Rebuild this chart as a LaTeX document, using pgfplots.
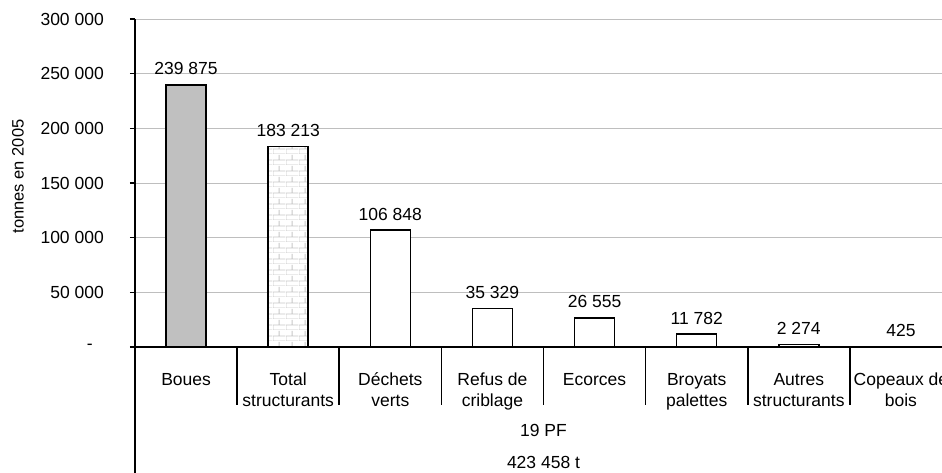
\documentclass[border=0pt]{standalone}
\usepackage{fontspec}
\setmainfont{Liberation Sans}
\usepackage{pgfplots}
\pgfplotsset{compat=1.18}
\usepackage{pgfplotstable}
\usetikzlibrary{patterns}

\pgfdeclarepatternformonly{mybricks}{\pgfpointorigin}{\pgfpoint{13pt}{11pt}}{\pgfpoint{13pt}{11pt}}{%
  \pgfsetlinewidth{0.9pt}%
  \pgfpathmoveto{\pgfpoint{0pt}{0pt}}\pgfpathlineto{\pgfpoint{13pt}{0pt}}%
  \pgfpathmoveto{\pgfpoint{0pt}{5.5pt}}\pgfpathlineto{\pgfpoint{13pt}{5.5pt}}%
  \pgfpathmoveto{\pgfpoint{0pt}{0pt}}\pgfpathlineto{\pgfpoint{0pt}{5.5pt}}%
  \pgfpathmoveto{\pgfpoint{6.5pt}{5.5pt}}\pgfpathlineto{\pgfpoint{6.5pt}{11pt}}%
  \pgfusepath{stroke}}

\definecolor{barGrey}{RGB}{192,192,192}
\definecolor{gridGrey}{RGB}{190,190,190}
\definecolor{brickGrey}{RGB}{200,200,200}

\pgfplotstableread[col sep=comma]{
x,y,label
0,239875,239 875
}\boues
\pgfplotstableread[col sep=comma]{
x,y,label
1,183213,183 213
}\total
\pgfplotstableread[col sep=comma]{
x,y,label
2,106848,106 848
3,35329,35 329
4,26555,26 555
5,11782,11 782
6,2274,2 274
7,425,425
}\autres

\begin{document}
\begin{tikzpicture}[font=\fontsize{17.5}{21}\selectfont]
\begin{axis}[
  name=ax,
  scale only axis,
  width=817pt, height=328pt,
  xmin=-0.5, xmax=7.5,
  ymin=0, ymax=300000,
  axis lines=left,
  axis line style={-, line width=1.6pt, black},
  clip=false,
  ybar, bar width=40pt,
  scaled y ticks=false,
  ytick={0,50000,100000,150000,200000,250000,300000},
  yticklabels={-\kern11pt, 50 000, 100 000, 150 000, 200 000, 250 000, 300 000},
  tick align=outside,
  major tick length=5pt,
  ytick style={line width=1.6pt, black},
  yticklabel style={anchor=east, inner sep=0pt, xshift=-26pt},
  ymajorgrids,
  grid style={line width=1pt, gridGrey},
  xtick={0,1,2,3,4,5,6,7},
  xticklabels={Boues, Total, Déchets, Refus de, Ecorces, Broyats, Autres, Copeaux de},
  xtick style={draw=none},
  xticklabel style={anchor=base, inner sep=0pt, yshift=-33pt},
  extra x ticks={0,1,2,3,4,5,6,7},
  extra x tick labels={, structurants, verts, criblage, , palettes, structurants, bois},
  extra x tick style={xticklabel style={yshift=-21pt}},
  ylabel={tonnes en 2005},
  ylabel style={at={(axis description cs:0,0.52)}, anchor=center, yshift=117pt, font=\fontsize{16.5}{20}\selectfont},
  point meta=explicit symbolic,
  nodes near coords,
  every node near coord/.append style={anchor=base, inner sep=0pt, yshift=10pt, black},
]
\addplot[bar shift=0pt, draw=black, line width=1.6pt, fill=barGrey] table[x=x, y=y, meta=label] {\boues};
\addplot[bar shift=0pt, draw=black, line width=1.6pt, fill=white, postaction={pattern=mybricks, pattern color=brickGrey}] table[x=x, y=y, meta=label] {\total};
\addplot[bar shift=0pt, draw=black, line width=1.6pt, fill=white] table[x=x, y=y, meta=label] {\autres};

\draw[line width=1.6pt] (axis cs:-0.5,0) -- ([yshift=-135pt]axis cs:-0.5,0);
\draw[line width=1.6pt] (axis cs:0.5,0) -- ([yshift=-58pt]axis cs:0.5,0);
\draw[line width=1.6pt] (axis cs:1.5,0) -- ([yshift=-58pt]axis cs:1.5,0);
\draw[line width=1.6pt] (axis cs:2.5,0) -- ([yshift=-58pt]axis cs:2.5,0);
\draw[line width=1.6pt] (axis cs:3.5,0) -- ([yshift=-58pt]axis cs:3.5,0);
\draw[line width=1.6pt] (axis cs:4.5,0) -- ([yshift=-58pt]axis cs:4.5,0);
\draw[line width=1.6pt] (axis cs:5.5,0) -- ([yshift=-58pt]axis cs:5.5,0);
\draw[line width=1.6pt] (axis cs:6.5,0) -- ([yshift=-58pt]axis cs:6.5,0);
\draw[line width=1.6pt] (axis cs:7.5,0) -- ([yshift=-58pt]axis cs:7.5,0);

\node[anchor=base, inner sep=0pt] at ([yshift=-89.7pt]axis cs:3.5,0) {19 PF};
\node[anchor=base, inner sep=0pt] at ([yshift=-121.5pt]axis cs:3.5,0) {423 458 t};
\end{axis}
\pgfresetboundingbox
\path[use as bounding box] ([shift={(-135pt,-125pt)}]ax.south west) rectangle ([shift={(807pt,347pt)}]ax.south west);
\end{tikzpicture}
\end{document}
